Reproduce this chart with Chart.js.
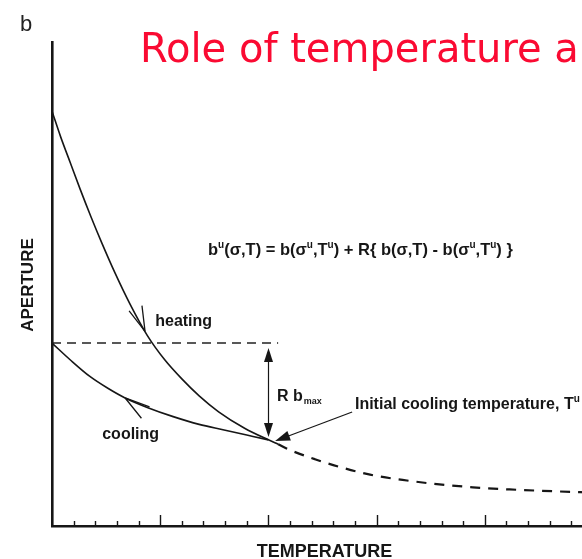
<!DOCTYPE html>
<html>
<head>
<meta charset="utf-8">
<script src="https://cdn.jsdelivr.net/npm/chart.js@4.4.1/dist/chart.umd.min.js"></script>
<style>
  html, body { margin: 0; padding: 0; background: #fff; overflow: hidden; }
  #wrap { width: 620px; height: 559px; }
</style>
</head>
<body>
<div id="wrap"><canvas id="chart" width="620" height="559"></canvas></div>
<script>
// x: temperature in minor-tick units, y: aperture (0-100)
const heatingX = [0, 0.4, 0.85, 1.3, 1.8, 2.3, 2.9, 3.6, 4.4, 5.2, 6.0, 6.8, 7.7, 8.9, 10.0, 10.45]
const heatingY = [85.7, 80.4, 75.0, 69.6, 63.9, 58.5, 52.4, 45.9, 39.4, 34.4, 30.4, 26.9, 23.6, 20.2, 17.8, 16.9]

const coolingX = [0, 0.85, 1.75, 2.6, 3.4, 4.4, 5.6, 6.8, 7.9, 9.0, 10.0]
const coolingY = [37.8, 34.3, 30.9, 28.4, 26.4, 24.5, 22.6, 21.0, 19.9, 18.8, 17.8]

// heating curve beyond the initial cooling temperature (dashed)
const aheadX = [10.45, 11.0, 12.15, 13.3, 14.7, 16.4, 17.9, 19.45, 21.15, 22.5, 24.4, 25.0]
const aheadY = [16.9, 15.7, 13.8, 12.2, 10.6, 9.4, 8.6, 8.0, 7.55, 7.3, 7.0, 6.95]

// residual aperture level b(σu,Tu)
const residualX = [0, 10.45]
const residualY = [37.8, 37.8]

const xMin = 0, xMax = 25, tickStep = 1, majorEvery = 5
const yMin = 0, yMax = 100

const coolStartX = 10          // initial cooling temperature Tu
const rbmaxTop = 36.8, rbmaxBottom = 18.4

const zip = (xs, ys) => xs.map((x, i) => ({ x, y: ys[i] }))

const INK = '#161616'
const FONT = '"Liberation Sans", Arial, Helvetica, sans-serif'

// ── figure decorations: ticks, arrows, labels ───────────────────────────────
function pointOn(chart, dsIndex, xv) {
  const d = chart.data.datasets[dsIndex].data
  const xs = chart.scales.x, ys = chart.scales.y
  for (let i = 0; i < d.length - 1; i++) {
    if (xv >= d[i].x && xv <= d[i + 1].x) {
      const t = (xv - d[i].x) / (d[i + 1].x - d[i].x)
      const yv = d[i].y + t * (d[i + 1].y - d[i].y)
      const ax = xs.getPixelForValue(d[i].x), ay = ys.getPixelForValue(d[i].y)
      const bx = xs.getPixelForValue(d[i + 1].x), by = ys.getPixelForValue(d[i + 1].y)
      return { x: xs.getPixelForValue(xv), y: ys.getPixelForValue(yv), angle: Math.atan2(by - ay, bx - ax) }
    }
  }
  return null
}

function filledHead(ctx, tx, ty, angle, len, half) {
  const bx = tx - Math.cos(angle) * len, by = ty - Math.sin(angle) * len
  const nx = -Math.sin(angle) * half, ny = Math.cos(angle) * half
  ctx.beginPath()
  ctx.moveTo(tx, ty)
  ctx.lineTo(bx + nx, by + ny)
  ctx.lineTo(bx - nx, by - ny)
  ctx.closePath()
  ctx.fill()
}

function chevron(ctx, p, forward) {
  // travel direction along the curve; barbs point back
  const back = forward ? p.angle + Math.PI : p.angle
  const deg = Math.PI / 180
  ctx.beginPath()
  for (const off of [-9 * deg, 22 * deg]) {
    ctx.moveTo(p.x, p.y)
    ctx.lineTo(p.x + Math.cos(back + off) * 26, p.y + Math.sin(back + off) * 26)
  }
  ctx.stroke()
}

function drawRuns(ctx, x, y, size, runs) {
  let cx = x
  for (const [txt, sup] of runs) {
    ctx.font = sup ? `bold ${Math.round(size * 0.6)}px ${FONT}` : `bold ${size}px ${FONT}`
    ctx.fillText(txt, cx, sup ? y - size * 0.42 : y)
    cx += ctx.measureText(txt).width
  }
}

const figurePlugin = {
  id: 'figureMarks',
  afterDraw(chart) {
    const ctx = chart.ctx
    const xs = chart.scales.x, ys = chart.scales.y
    const px = v => xs.getPixelForValue(v)
    const py = v => ys.getPixelForValue(v)
    const area = chart.chartArea
    ctx.save()
    ctx.strokeStyle = INK
    ctx.fillStyle = INK

    // inward tick marks on the temperature axis
    ctx.lineWidth = 1.4
    ctx.beginPath()
    for (let v = xMin + tickStep; v <= xMax; v += tickStep) {
      const x = Math.round(px(v)) + 0.5
      const h = v % majorEvery === 0 ? 11 : 5
      ctx.moveTo(x, area.bottom)
      ctx.lineTo(x, area.bottom - h)
    }
    ctx.stroke()

    // R b_max double arrow
    const ax = Math.round(px(coolStartX)) + 0.5
    ctx.lineWidth = 1.2
    ctx.beginPath()
    ctx.moveTo(ax, py(rbmaxTop) + 10)
    ctx.lineTo(ax, py(rbmaxBottom) - 10)
    ctx.stroke()
    filledHead(ctx, ax, py(rbmaxTop), -Math.PI / 2, 14, 4.5)
    filledHead(ctx, ax, py(rbmaxBottom), Math.PI / 2, 14, 4.5)

    // pointer to initial cooling temperature
    const fromX = px(13.87), fromY = py(23.55)
    const tipX = px(10.31), tipY = py(17.56)
    const ang = Math.atan2(tipY - fromY, tipX - fromX)
    ctx.beginPath()
    ctx.moveTo(fromX, fromY)
    ctx.lineTo(tipX - Math.cos(ang) * 10, tipY - Math.sin(ang) * 10)
    ctx.stroke()
    filledHead(ctx, tipX, tipY, ang, 15, 5)

    // direction chevrons on the curves
    ctx.lineWidth = 1.3
    const ph = pointOn(chart, 0, 4.3)
    if (ph) chevron(ctx, ph, true)
    const pc = pointOn(chart, 1, 3.38)
    if (pc) chevron(ctx, pc, false)

    // labels inside the plot
    ctx.textBaseline = 'alphabetic'
    ctx.textAlign = 'left'
    ctx.font = `bold 16px ${FONT}`
    ctx.fillText('heating', px(4.77), py(41.3))
    ctx.fillText('cooling', px(2.32), py(18.0))

    ctx.font = `bold 16px ${FONT}`
    ctx.fillText('R b', px(10.4), py(25.8))
    const rw = ctx.measureText('R b').width
    ctx.font = `bold 9px ${FONT}`
    ctx.fillText('max', px(10.4) + rw + 1, py(25.8) + 3)

    drawRuns(ctx, px(14.0), py(24.2), 16, [['Initial cooling temperature, T', false], ['u', true]])

    drawRuns(ctx, px(7.21), py(56.0), 16.5, [
      ['b', false], ['u', true], ['(σ,T) = b(σ', false], ['u', true], [',T', false], ['u', true],
      [') + R{ b(σ,T) - b(σ', false], ['u', true], [',T', false], ['u', true], [') }', false],
    ])

    // axis titles
    ctx.font = `bold 18px ${FONT}`
    ctx.textAlign = 'center'
    ctx.fillText('TEMPERATURE', (area.left + area.right) / 2 + 2, 557)

    ctx.save()
    ctx.translate(28, 285)
    ctx.rotate(-Math.PI / 2)
    ctx.font = `bold 17px ${FONT}`
    ctx.textBaseline = 'middle'
    ctx.fillText('APERTURE', 0, 0)
    ctx.restore()

    // panel letter and slide title
    ctx.textAlign = 'left'
    ctx.fillStyle = '#222'
    ctx.font = `22px ${FONT}`
    ctx.fillText('b', 20, 31)
    ctx.fillStyle = '#fa0a32'
    ctx.font = '40px "Comic Sans MS", "DejaVu Sans", sans-serif'
    ctx.fillText('Role of temperature and stress', 140, 62)

    ctx.restore()
  },
}

const lineDefaults = {
  showLine: true,
  pointRadius: 0,
  pointHoverRadius: 0,
  fill: false,
  cubicInterpolationMode: 'monotone',
}

new Chart(document.getElementById('chart'), {
  type: 'scatter',
  plugins: [figurePlugin],
  data: {
    datasets: [
      { ...lineDefaults, label: 'heating', data: zip(heatingX, heatingY), borderColor: INK, borderWidth: 1.6 },
      { ...lineDefaults, label: 'cooling', data: zip(coolingX, coolingY), borderColor: INK, borderWidth: 1.6 },
      { ...lineDefaults, label: 'heating (beyond Tu)', data: zip(aheadX, aheadY), borderColor: INK, borderWidth: 2.2, borderDash: [10, 8] },
      { ...lineDefaults, label: 'residual', data: zip(residualX, residualY), borderColor: '#222', borderWidth: 1.4, borderDash: [9, 6], cubicInterpolationMode: 'default' },
    ],
  },
  options: {
    responsive: false,
    animation: false,
    devicePixelRatio: 1,
    layout: { padding: { left: 44, top: 42, right: 27, bottom: 25 } },
    plugins: { legend: { display: false }, tooltip: { enabled: false } },
    scales: {
      x: {
        type: 'linear', min: xMin, max: xMax,
        ticks: { display: false },
        grid: { display: false },
        border: { display: true, color: INK, width: 2.6 },
      },
      y: {
        type: 'linear', min: yMin, max: yMax,
        ticks: { display: false },
        grid: { display: false },
        border: { display: true, color: INK, width: 2.6 },
      },
    },
  },
})
</script>
</body>
</html>
